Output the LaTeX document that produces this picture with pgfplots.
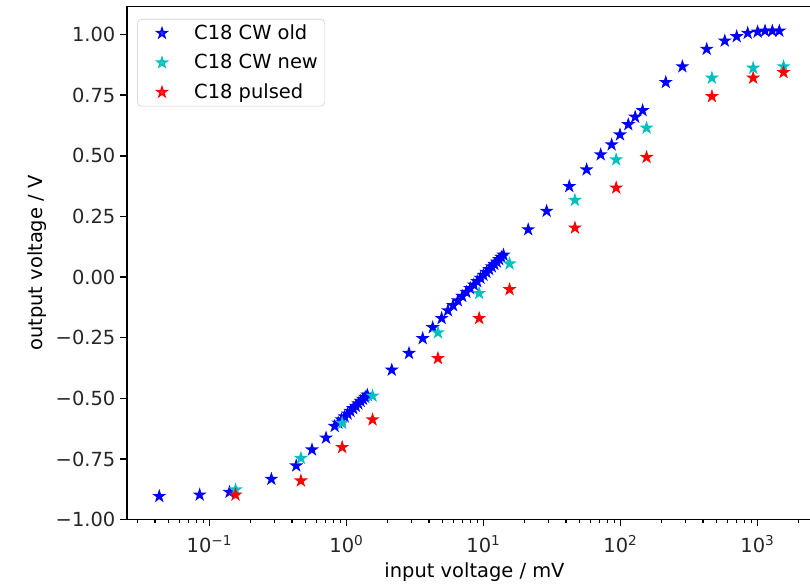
\documentclass[border=0pt]{standalone}
\usepackage{pgfplots}
\pgfplotsset{compat=1.18}
\usepackage{fontspec}
\setmainfont{DejaVu Sans}
\definecolor{mplc}{rgb}{0,0.75,0.75}
\pgfdeclareplotmark{fstar}{%
 \pgfpathmoveto{\pgfpointpolar{90}{\pgfplotmarksize}}%
 \pgfpathlineto{\pgfpointpolar{126}{0.382\pgfplotmarksize}}%
 \pgfpathlineto{\pgfpointpolar{162}{\pgfplotmarksize}}%
 \pgfpathlineto{\pgfpointpolar{198}{0.382\pgfplotmarksize}}%
 \pgfpathlineto{\pgfpointpolar{234}{\pgfplotmarksize}}%
 \pgfpathlineto{\pgfpointpolar{270}{0.382\pgfplotmarksize}}%
 \pgfpathlineto{\pgfpointpolar{306}{\pgfplotmarksize}}%
 \pgfpathlineto{\pgfpointpolar{342}{0.382\pgfplotmarksize}}%
 \pgfpathlineto{\pgfpointpolar{18}{\pgfplotmarksize}}%
 \pgfpathlineto{\pgfpointpolar{54}{0.382\pgfplotmarksize}}%
 \pgfpathclose
 \pgfusepathqfillstroke}
\pgfplotstableread{
x y
0.0430 -0.904
0.0848 -0.898
0.140 -0.887
0.283 -0.833
0.430 -0.778
0.560 -0.712
0.709 -0.663
0.82 -0.615
0.87 -0.601
0.92 -0.588
0.97 -0.576
1.02 -0.564
1.07 -0.553
1.12 -0.542
1.17 -0.532
1.22 -0.522
1.27 -0.512
1.32 -0.503
1.37 -0.495
1.42 -0.486
2.14 -0.383
2.86 -0.314
3.60 -0.253
4.26 -0.208
4.95 -0.170
5.5 -0.138
6.0 -0.117
6.5 -0.097
7.0 -0.079
7.5 -0.062
8.0 -0.047
8.5 -0.032
9.0 -0.018
9.5 -0.004
10 0.008
10.5 0.020
11 0.032
11.5 0.043
12 0.053
12.5 0.063
13 0.073
13.5 0.082
14 0.091
21.2 0.196
28.9 0.272
42.3 0.374
56.6 0.443
71.7 0.505
86.2 0.546
99.2 0.587
114 0.629
128 0.660
145 0.687
214 0.803
283 0.868
426 0.940
577 0.974
705 0.992
848 1.006
1002 1.011
1135 1.015
1283 1.015
1443 1.015
}\cwold
\pgfplotstableread{
x y
0.155 -0.877
0.465 -0.747
0.93 -0.602
1.55 -0.490
4.65 -0.229
9.3 -0.067
15.5 0.055
46.5 0.317
93 0.484
155 0.615
465 0.821
930 0.862
1550 0.868
}\cwnew
\pgfplotstableread{
x y
0.155 -0.898
0.465 -0.840
0.93 -0.702
1.55 -0.588
4.65 -0.335
9.3 -0.170
15.5 -0.051
46.5 0.203
93 0.368
155 0.494
465 0.745
930 0.821
1550 0.844
}\pulsed
\pgfplotsset{
 starleg/.style={legend image code/.code={\path[draw=none,fill=none] (0pt,-3pt) (35.8pt,3pt);\draw[mark repeat=2,mark phase=2,##1] plot coordinates {(0pt,0pt) (14.6pt,0pt) (35.8pt,0pt)};}}
}
\begin{document}
\begin{tikzpicture}
\clip (-91.44pt,-45.9pt) rectangle (491.76pt,374.1pt);
\begin{axis}[
 at={(0,0)}, anchor=south west,
 scale only axis, width=500.4pt, height=369.3pt,
 xmode=log, xmin=0.025, xmax=2957, ymin=-1.0, ymax=1.115,
 xtick={0.1,1,10,100,1000},
 xticklabels={10\textsuperscript{−1},10\textsuperscript{0},10\textsuperscript{1},10\textsuperscript{2},10\textsuperscript{3}},
 minor xtick={0.03,0.04,0.05,0.06,0.07,0.08,0.09,0.2,0.3,0.4,0.5,0.6,0.7,0.8,0.9,2,3,4,5,6,7,8,9,20,30,40,50,60,70,80,90,200,300,400,500,600,700,800,900,2000},
 ytick={-1,-0.75,-0.5,-0.25,0,0.25,0.5,0.75,1},
 yticklabels={−1.00,−0.75,−0.50,−0.25,0.00,0.25,0.50,0.75,1.00},
 tick align=outside, tick pos=left,
 major tick length=4.9pt, minor tick length=2.8pt,
 major tick style={black, line width=1.1pt},
 minor tick style={black, line width=0.84pt},
 axis line style={line width=1.1pt},
 tick label style={font=\fontsize{14}{16}\selectfont, text=black!85},
 xticklabel style={yshift=-3pt},
 label style={font=\fontsize{14}{16}\selectfont},
 xlabel={input voltage / mV}, ylabel={output voltage / V},
 xlabel style={yshift=0pt},
 mark size=3.7pt,
 legend cell align=left,
 legend style={at={(0.0148,0.976)}, anchor=north west, draw=black!20, rounded corners=3pt, fill=white, fill opacity=0.8, text opacity=1, font=\fontsize{14}{16}\selectfont, row sep=5.2pt, inner xsep=3pt, nodes={inner sep=2pt}},
]
\addplot[only marks, starleg, mark=fstar, mark options={draw=blue, fill=blue, line width=1pt}] table {\cwold};
\addlegendentry{C18 CW old}
\addplot[only marks, starleg, mark=fstar, mark options={draw=mplc, fill=mplc, line width=1pt}] table {\cwnew};
\addlegendentry{C18 CW new}
\addplot[only marks, starleg, mark=fstar, mark options={draw=red, fill=red, line width=1pt}] table {\pulsed};
\addlegendentry{C18 pulsed}
\end{axis}
\end{tikzpicture}
\end{document}
